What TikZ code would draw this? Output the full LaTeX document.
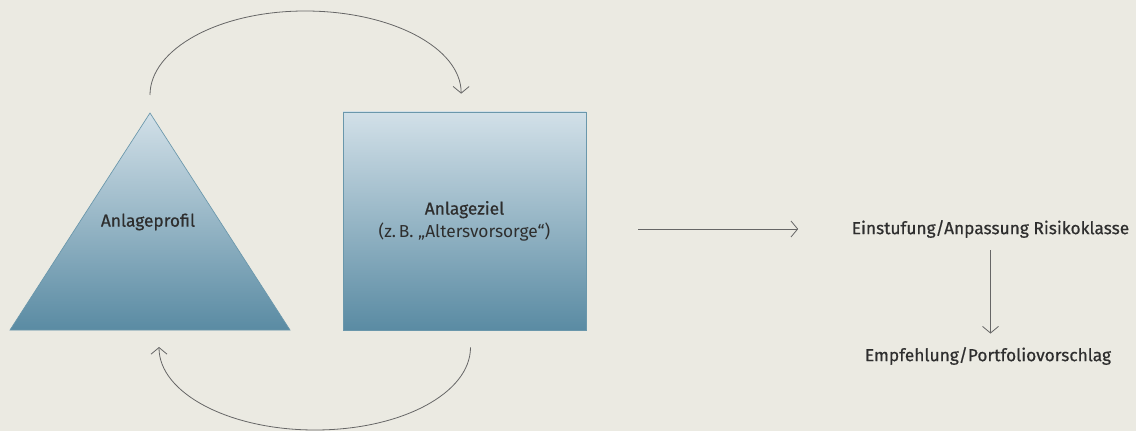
\documentclass[tikz,border=0pt]{standalone}
\usepackage{fontspec}
\setmainfont{Fira Sans}
\newfontfamily\medfont[FakeBold=0.6]{Fira Sans}
\usetikzlibrary{arrows.meta}
\definecolor{paper}{HTML}{EBEAE2}
\definecolor{paleblue}{HTML}{D2E0E8}
\definecolor{deepblue}{HTML}{5A8BA3}
\definecolor{rim}{HTML}{6A97AB}
\definecolor{arcgray}{HTML}{666666}
\definecolor{ink}{HTML}{2E2E2E}

\begin{document}
\begin{tikzpicture}[x=0.75pt, y=-0.75pt,
  arr/.style={draw=arcgray, line width=0.6pt,
    -{Straight Barb[length=5pt, width=12pt]}},
  body/.style={draw=rim, line width=0.5pt,
    top color=paleblue, bottom color=deepblue},
  txt/.style={text=ink, inner sep=0pt, align=center,
    font=\fontsize{13}{17}\selectfont}]
  % Background.
  \fill[paper] (0,0) rectangle (1136,431);
  % Triangle (profile) and box (goal).
  \shade[body] (10,330) -- (150,113) -- (290,330) -- cycle;
  \coordinate (apex) at (150,113);
  \coordinate (base) at (159,330);
  \node[body, minimum width=182.25pt, minimum height=163.5pt] (ziel) at (464.5,221) {};
  % Labels.
  \node[txt] (profil) at (148,222) {\medfont Anlageprofil};
  \node[txt] at (ziel.center) {{\medfont Anlageziel}\\(z.\,B. „Altersvorsorge“)};
  \node[txt] (einst) at (990.5,229) {\medfont Einstufung/Anpassung Risikoklasse};
  \node[txt] (empf) at (988,356) {\medfont Empfehlung/Portfoliovorschlag};
  % Cycle between profile and goal (half ellipses).
  \draw[arr, shorten <=13.5pt, shorten >=13.5pt]
    (apex) .. controls +(0,-64) and +(-86,0) .. (305,11)
    .. controls +(86,0) and +(0,-64) .. ([xshift=-2.5pt]ziel.north);
  \draw[arr, shorten <=12.75pt, shorten >=12.75pt]
    ([xshift=4.5pt]ziel.south) .. controls +(0,63) and +(86,0) .. (315,430)
    .. controls +(-86,0) and +(0,63) .. (base);
  % Flow to classification.
  \draw[arr, shorten <=39pt, shorten >=40pt] (ziel.east |- einst.west) -- (einst.west);
  \draw[arr, shorten <=9pt, shorten >=10pt] (einst.south) -- (einst.south |- empf.north);
  \pgfresetboundingbox
  \useasboundingbox (0,0) rectangle (1136,431);
\end{tikzpicture}
\end{document}
